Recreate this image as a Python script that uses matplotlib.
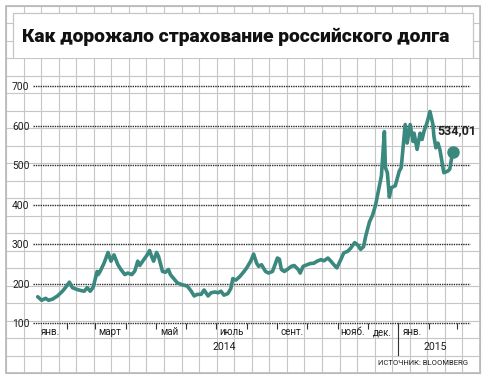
import matplotlib
matplotlib.use("Agg")
import matplotlib.pyplot as plt
import matplotlib.dates as mdates
from matplotlib.patches import Rectangle
from matplotlib.ticker import FixedLocator, NullFormatter
import pandas as pd

# ---------------- data ----------------
title = "Как дорожало страхование российского долга"
source = "ИСТОЧНИК: BLOOMBERG"

dates = [
    "2014-01-02", "2014-01-06", "2014-01-10", "2014-01-13", "2014-01-17", "2014-01-22",
    "2014-01-27", "2014-01-30", "2014-02-03", "2014-02-06", "2014-02-10", "2014-02-14",
    "2014-02-18", "2014-02-21", "2014-02-24", "2014-02-27", "2014-03-03", "2014-03-04",
    "2014-03-06", "2014-03-10", "2014-03-14", "2014-03-17", "2014-03-20", "2014-03-24",
    "2014-03-27", "2014-03-31", "2014-04-03", "2014-04-07", "2014-04-10", "2014-04-13",
    "2014-04-15", "2014-04-18", "2014-04-22", "2014-04-25", "2014-04-27", "2014-04-29",
    "2014-05-02", "2014-05-04", "2014-05-08", "2014-05-11", "2014-05-14", "2014-05-16",
    "2014-05-20", "2014-05-23", "2014-05-27", "2014-06-02", "2014-06-06", "2014-06-09",
    "2014-06-12", "2014-06-16", "2014-06-19", "2014-06-23", "2014-06-26", "2014-06-30",
    "2014-07-03", "2014-07-06", "2014-07-09", "2014-07-13", "2014-07-16", "2014-07-18",
    "2014-07-21", "2014-07-25", "2014-07-29", "2014-08-01", "2014-08-05", "2014-08-08",
    "2014-08-11", "2014-08-13", "2014-08-16", "2014-08-20", "2014-08-23", "2014-08-27",
    "2014-08-29", "2014-09-01", "2014-09-03", "2014-09-05", "2014-09-08", "2014-09-11",
    "2014-09-15", "2014-09-18", "2014-09-22", "2014-09-24", "2014-09-27", "2014-10-01",
    "2014-10-04", "2014-10-08", "2014-10-11", "2014-10-15", "2014-10-18", "2014-10-22",
    "2014-10-25", "2014-10-28", "2014-10-31", "2014-11-04", "2014-11-07", "2014-11-11",
    "2014-11-14", "2014-11-18", "2014-11-21", "2014-11-24", "2014-11-27", "2014-11-29",
    "2014-12-03", "2014-12-06", "2014-12-09", "2014-12-11", "2014-12-15", "2014-12-18",
    "2014-12-19", "2014-12-21", "2014-12-23", "2014-12-25", "2014-12-29", "2015-01-02",
    "2015-01-04", "2015-01-08", "2015-01-10", "2015-01-13", "2015-01-16", "2015-01-17",
    "2015-01-20", "2015-01-23", "2015-01-25", "2015-01-27", "2015-01-30", "2015-02-02",
    "2015-02-05", "2015-02-06", "2015-02-08", "2015-02-10", "2015-02-12", "2015-02-16",
    "2015-02-20", "2015-02-22", "2015-02-25",
]
values = [
    167, 158, 163, 158, 161, 169,
    181, 190, 204, 190, 186, 183,
    181, 190, 181, 191, 231, 223,
    231, 252, 279, 257, 273, 248,
    236, 223, 227, 223, 232, 257,
    246, 257, 271, 284, 269, 257,
    279, 269, 231, 229, 236, 223,
    211, 202, 198, 194, 181, 169,
    173, 173, 184, 169, 177, 179,
    177, 181, 171, 175, 188, 213,
    209, 218, 230, 240, 257, 275,
    252, 244, 248, 231, 227, 231,
    244, 265, 262, 236, 231, 236,
    244, 246, 236, 227, 244, 248,
    251, 252, 257, 261, 258, 265,
    257, 248, 240, 261, 278, 282,
    290, 304, 298, 287, 294, 319,
    357, 373, 398, 423, 473, 585,
    494, 481, 419, 443, 448, 485,
    494, 603, 556, 603, 560, 581,
    540, 581, 565, 586, 607, 636,
    603, 573, 544, 556, 540, 481,
    485, 490, 534.01,
]

yticks = [100, 200, 300, 400, 500, 600, 700]
month_labels = ["янв.", "март", "май", "июль", "сент.", "нояб.", "дек.", "янв."]
month_label_dates = ["2014-01-15", "2014-03-16", "2014-05-15", "2014-07-17",
                     "2014-09-16", "2014-11-16", "2014-12-16", "2015-01-15"]
year_labels = ["2014", "2015"]

# ---------------- styling ----------------
W, H = 487, 380
TEAL = "#3b887e"
GRID = "#c6c6c6"
DARK = "#1e1e1e"
SMALL = ["Roboto", "DejaVu Sans"]

fig = plt.figure(figsize=(W / 100, H / 100), dpi=100)
fig.patch.set_facecolor("white")

# background "graph paper" in pixel coordinates
bg = fig.add_axes([0, 0, 1, 1])
bg.set_xlim(0, W)
bg.set_ylim(H, 0)
bg.axis("off")
gx0, gx1, gy0, gy1 = 6, 480, 6, 373
for k in range(28):
    x = gx0 + k * (gx1 - gx0) / 27
    bg.plot([x, x], [gy0, gy1], color=GRID, lw=0.8, zorder=1)
for k in range(22):
    y = gy0 + k * (gy1 - gy0) / 21
    bg.plot([gx0, gx1], [y, y], color=GRID, lw=0.8, zorder=1)
bg.add_patch(Rectangle((gx0, gy0), gx1 - gx0, gy1 - gy0, fill=False,
                       edgecolor="#b8b8b8", lw=1.2, zorder=2))

# title box
bg.add_patch(Rectangle((13, 13), 460, 44.5, facecolor="white", edgecolor="none", zorder=3))
bg.plot([13, 13, 473, 473], [57, 13, 13, 57], color=GRID, lw=0.9, zorder=4)
t = bg.text(22, 42.5, title, fontsize=14, fontweight="black", family=["Roboto", "DejaVu Sans"],
            color="#111111", ha="left", va="baseline", zorder=5)
fig.canvas.draw()
w = t.get_window_extent().width
t.set_fontsize(14 * 430 / w)

# year labels, source
bg.text(224, 347, year_labels[0], fontsize=7.6, family=SMALL, color=DARK,
        ha="center", va="center", zorder=5)
bg.text(435, 347, year_labels[1], fontsize=7.6, family=SMALL, color=DARK,
        ha="center", va="center", zorder=5)
bg.text(468, 363, source, fontsize=5.5, family=SMALL, color=DARK,
        ha="right", va="center", zorder=5)

# ---------------- data axes ----------------
def ypx(v):
    return 204.7 - 0.395 * (v - 400)

left_px, right_px = 33, 470
top_px, bot_px = ypx(700), ypx(100)
ax = fig.add_axes([left_px / W, 1 - bot_px / H, (right_px - left_px) / W, (bot_px - top_px) / H])
ax.set_zorder(2)
ax.patch.set_alpha(0)

d = pd.to_datetime(dates)
d0 = mdates.date2num(pd.Timestamp("2014-01-01"))
d1 = mdates.date2num(pd.Timestamp("2015-03-01"))
ppd = (456.7 - 36.7) / (d1 - d0)
ax.set_xlim(d0 - (36.7 - left_px) / ppd, d1 + (right_px - 456.7) / ppd)
ax.set_ylim(100, 700)

for s in ax.spines.values():
    s.set_visible(False)

for v in yticks:
    ax.axhline(v, color="#2a2a2a", lw=1.0, ls=(0, (1, 0.7)), clip_on=False, zorder=2)

ax.plot(d, values, color=TEAL, lw=2.6, solid_joinstyle="round", solid_capstyle="round", zorder=3)
ax.plot(d[-1], values[-1], "o", ms=8, color=TEAL, zorder=4)
ax.annotate(f"{values[-1]:.2f}".replace(".", ","), xy=(d[-1], values[-1]),
            xytext=(3, 15.5), textcoords="offset points", ha="center", va="center",
            fontsize=9, fontweight="bold", family=SMALL, color="#222222", zorder=5)

ax.set_yticks(yticks)
ax.set_yticklabels([str(v) for v in yticks], fontsize=7.4, family=SMALL, color=DARK)
ax.tick_params(axis="y", length=0, pad=2.5)

month_starts = pd.date_range("2014-02-01", "2015-03-01", freq="MS")
ax.xaxis.set_major_locator(FixedLocator(mdates.date2num(month_starts)))
ax.xaxis.set_major_formatter(NullFormatter())
ax.xaxis.set_minor_locator(FixedLocator(mdates.date2num(pd.to_datetime(month_label_dates))))
ax.set_xticklabels(month_labels, minor=True, fontsize=7, family=SMALL, color=DARK)
ax.tick_params(axis="x", which="major", length=4.5, width=0.8, color="#333333", direction="out")
ax.tick_params(axis="x", which="minor", length=0, pad=3)

# year separator
sep = mdates.date2num(pd.Timestamp("2015-01-01"))
ax.plot([sep, sep], [0, -(355 - bot_px) / (bot_px - top_px)], transform=ax.get_xaxis_transform(),
        color="#333333", lw=0.8, clip_on=False)

fig.savefig("out.png", dpi=100, facecolor="white")
